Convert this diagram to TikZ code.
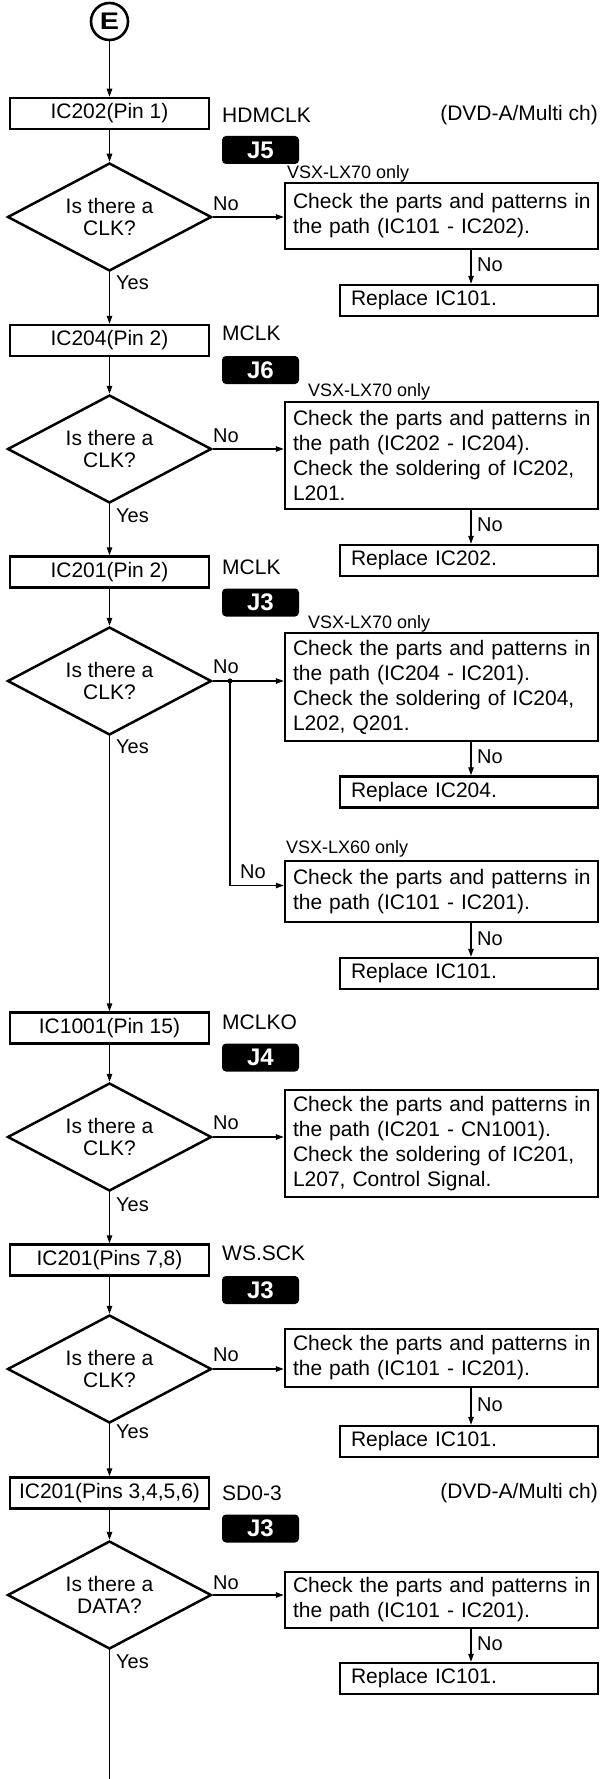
\documentclass[tikz,border=0pt]{standalone}
\usepackage{fontspec}
\setmainfont{Liberation Sans}
\usetikzlibrary{arrows.meta,shapes.geometric}
\newcommand\tline[1]{\mbox{#1}}
\begin{document}
\begin{tikzpicture}[x=1pt,y=-1pt,
  every node/.style={font=\fontsize{21}{25}\selectfont},
  lbox/.style={draw,line width=2.5pt,minimum width=199pt,minimum height=31pt,inner sep=0pt},
  dec/.style={draw,diamond,shape aspect=1.89,line width=2.5pt,minimum width=204pt,minimum height=108pt,inner sep=0pt,align=center,font=\fontsize{21}{22}\selectfont},
  chk/.style={draw,line width=2.5pt,text width=297pt,inner xsep=8pt,inner ysep=0pt,align=left,minimum width=313pt},
  rep/.style={draw,line width=2.5pt,text width=236pt,inner xsep=11pt,inner ysep=0pt,align=left,minimum width=258pt,minimum height=31pt},
  badge/.style={fill=black,rounded corners=4pt,minimum width=77pt,minimum height=28pt,inner sep=0pt,text=white,font=\fontsize{24}{24}\selectfont\bfseries},
  sig/.style={anchor=west,inner sep=0pt},
  note/.style={anchor=base west,inner sep=0pt,font=\fontsize{18}{18}\selectfont},
  ans/.style={anchor=west,inner sep=0pt,font=\fontsize{20}{20}\selectfont},
  flow/.style={line width=1.2pt,-{Triangle[length=8pt,width=5.5pt]}},
  wire/.style={line width=1.2pt},
]
\fill[white] (0,0) rectangle (600,1779);
\useasboundingbox (0,0) rectangle (600,1779);

% start
\node[circle,draw,line width=2.6pt,minimum size=37pt,inner sep=0pt,font=\fontsize{24}{24}\selectfont\bfseries] (E) at (109.5,21.5) {\scalebox{1.2}[1]{E}};

% left column
\node[lbox] (b1) at (109.5,113.5) {IC202(Pin 1)};
\node[dec] (d1) at (109.5,217) {Is there a\\CLK?};
\node[lbox] (b2) at (109.5,340.5) {IC204(Pin 2)};
\node[dec] (d2) at (109.5,449) {Is there a\\CLK?};
\node[lbox] (b3) at (109.5,572) {IC201(Pin 2)};
\node[dec] (d3) at (109.5,681) {Is there a\\CLK?};
\node[lbox] (b4) at (109.5,1028) {IC1001(Pin 15)};
\node[dec] (d4) at (109.5,1137) {Is there a\\CLK?};
\node[lbox] (b5) at (109.5,1260) {IC201(Pins 7,8)};
\node[dec] (d5) at (109.5,1369) {Is there a\\CLK?};
\node[lbox] (b6) at (109.5,1493) {IC201(Pins 3,4,5,6)};
\node[dec] (d6) at (109.5,1595) {Is there a\\DATA?};
\coordinate (bottom) at (109.5,1779);

% signal names
\node[sig] (s1) at (222,115) {HDMCLK};
\node[sig] (s2) at (222,333) {MCLK};
\node[sig] (s3) at (222,567) {MCLK};
\node[sig] (s4) at (222,1022) {MCLKO};
\node[sig] (s5) at (222,1253) {WS.SCK};
\node[sig] (s6) at (222,1493) {SD0-3};
\node[anchor=east,inner sep=0pt] (m1) at (598,115) {(DVD-A/Multi ch)};
\node[anchor=east,inner sep=0pt] (m2) at (598,1493) {(DVD-A/Multi ch)};

% badges
\node[badge] (j1) at (260.5,150) {J5};
\node[badge] (j2) at (260.5,370) {J6};
\node[badge] (j3) at (260.5,602.5) {J3};
\node[badge] (j4) at (260.5,1057.5) {J4};
\node[badge] (j5) at (260.5,1290) {J3};
\node[badge] (j6) at (260.5,1528.5) {J3};

% check boxes
\node[chk,minimum height=66pt] (c1) at (441.5,216) {\tline{Check the parts and patterns in}\\\tline{the path (IC101 - IC202).}};
\node[chk,minimum height=107pt] (c2) at (441.5,455.5) {\tline{Check the parts and patterns in}\\\tline{the path (IC202 - IC204).}\\\tline{Check the soldering of IC202,}\\\tline{L201.}};
\node[chk,minimum height=108pt] (c3) at (441.5,687) {\tline{Check the parts and patterns in}\\\tline{the path (IC204 - IC201).}\\\tline{Check the soldering of IC204,}\\\tline{L202, Q201.}};
\node[chk,minimum height=61pt] (c4) at (441.5,891.5) {\tline{Check the parts and patterns in}\\\tline{the path (IC101 - IC201).}};
\node[chk,minimum height=107pt] (c5) at (441.5,1143.5) {\tline{Check the parts and patterns in}\\\tline{the path (IC201 - CN1001).}\\\tline{Check the soldering of IC201,}\\\tline{L207, Control Signal.}};
\node[chk,minimum height=58pt] (c6) at (441.5,1358) {\tline{Check the parts and patterns in}\\\tline{the path (IC101 - IC201).}};
\node[chk,minimum height=56pt] (c7) at (441.5,1600) {\tline{Check the parts and patterns in}\\\tline{the path (IC101 - IC201).}};

% model notes
\node[note] (n1) at (287,179) {VSX-LX70 only};
\node[note] (n2) at (308,396) {VSX-LX70 only};
\node[note] (n3) at (308,628) {VSX-LX70 only};
\node[note] (n4) at (286,853) {VSX-LX60 only};

% replace boxes
\node[rep] (r1) at (469,300.5) {Replace IC101.};
\node[rep] (r2) at (469,560.5) {Replace IC202.};
\node[rep] (r3) at (469,792) {Replace IC204.};
\node[rep] (r4) at (469,973.5) {Replace IC101.};
\node[rep] (r6) at (469,1441.5) {Replace IC101.};
\node[rep] (r7) at (469,1678.5) {Replace IC101.};

% main flow
\draw[flow] (E) -- (b1);
\draw[flow] (b1) -- (d1);
\draw[flow] (d1) -- (b2);
\draw[flow] (b2) -- (d2);
\draw[flow] (d2) -- (b3);
\draw[flow] (b3) -- (d3);
\draw[flow] (d3) -- (b4);
\draw[flow] (b4) -- (d4);
\draw[flow] (d4) -- (b5);
\draw[flow] (b5) -- (d5);
\draw[flow] (d5) -- (b6);
\draw[flow] (b6) -- (d6);
\draw[wire] (d6.south) -- (bottom);

% No branches
\draw[flow] (d1.east) -- (d1.east -| c1.west);
\draw[flow] (d2.east) -- (d2.east -| c2.west);
\draw[flow] (d3.east) -- (d3.east -| c3.west);
\draw[flow] (d4.east) -- (d4.east -| c5.west);
\draw[flow] (d5.east) -- (d5.east -| c6.west);
\draw[flow] (d6.east) -- (d6.east -| c7.west);

\coordinate (jn) at (230,681);
\coordinate (kn) at (230,885.5);
\fill (jn) circle (2.6pt);
\draw[flow] (jn) -- (kn) -- (kn -| c4.west);

% down arrows
\coordinate (xr) at (471,0);
\draw[flow] (c1.south -| xr) -- (r1.north -| xr);
\draw[flow] (c2.south -| xr) -- (r2.north -| xr);
\draw[flow] (c3.south -| xr) -- (r3.north -| xr);
\draw[flow] (c4.south -| xr) -- (r4.north -| xr);
\draw[flow] (c6.south -| xr) -- (r6.north -| xr);
\draw[flow] (c7.south -| xr) -- (r7.north -| xr);

% Yes labels
\node[ans] (y1) at (116,283) {Yes};
\node[ans] (y2) at (116,516) {Yes};
\node[ans] (y3) at (116,747) {Yes};
\node[ans] (y4) at (116,1205) {Yes};
\node[ans] (y5) at (116,1432) {Yes};
\node[ans] (y6) at (116,1662) {Yes};

% No labels
\node[ans] (o1) at (213,204) {No};
\node[ans] (o2) at (213,436) {No};
\node[ans] (o3) at (213,667) {No};
\node[ans] (o4) at (213,1123) {No};
\node[ans] (o5) at (213,1355) {No};
\node[ans] (o6) at (213,1583) {No};
\node[ans] (o7) at (240,872) {No};
\node[ans] (p1) at (477,265) {No};
\node[ans] (p2) at (477,525) {No};
\node[ans] (p3) at (477,757) {No};
\node[ans] (p4) at (477,939) {No};
\node[ans] (p6) at (477,1405) {No};
\node[ans] (p7) at (477,1644) {No};
\end{tikzpicture}
\end{document}
